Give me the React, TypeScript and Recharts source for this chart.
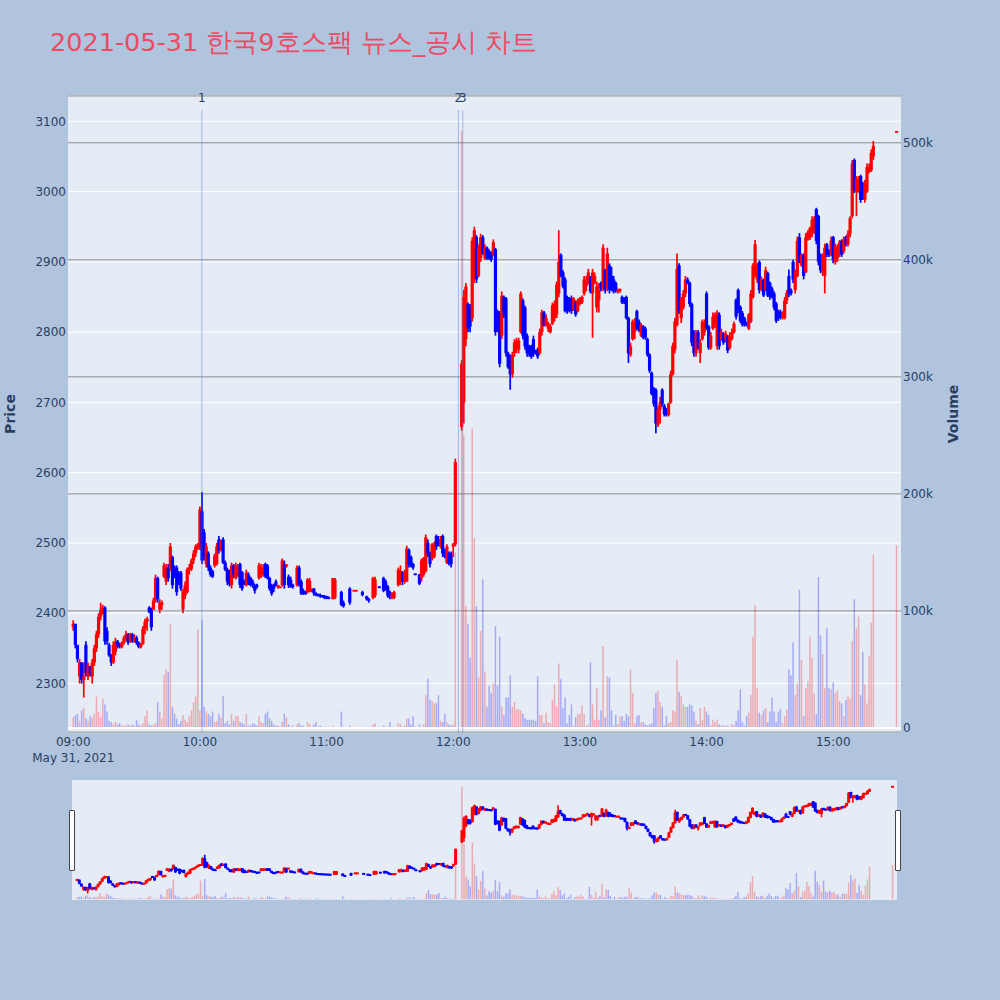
import React from 'react';
import { ComposedChart, Bar, XAxis, YAxis, CartesianGrid, ReferenceLine } from 'recharts';

type Row = [string, number, number, number, number, number]; // time, open, high, low, close, volume

const bars09: Row[] = [
  ['09:00', 2380, 2390, 2375, 2385, 9000], ['09:01', 2385, 2385, 2350, 2355, 11000],
  ['09:02', 2355, 2355, 2330, 2335, 12000], ['09:03', 2310, 2335, 2300, 2330, 6000],
  ['09:04', 2330, 2330, 2300, 2305, 15000], ['09:05', 2305, 2330, 2280, 2310, 17000],
  ['09:06', 2355, 2360, 2310, 2315, 8000], ['09:07', 2310, 2330, 2305, 2325, 6000],
  ['09:08', 2325, 2325, 2310, 2315, 10000], ['09:09', 2310, 2335, 2300, 2330, 9000],
  ['09:10', 2330, 2355, 2325, 2350, 12000], ['09:11', 2350, 2375, 2345, 2370, 27000],
  ['09:12', 2370, 2400, 2365, 2395, 14000], ['09:13', 2395, 2415, 2390, 2405, 9000],
  ['09:14', 2400, 2412, 2398, 2408, 25000], ['09:15', 2408, 2410, 2355, 2360, 20000],
  ['09:16', 2375, 2380, 2355, 2360, 14000], ['09:17', 2355, 2358, 2338, 2340, 6000],
  ['09:18', 2340, 2342, 2325, 2330, 5000], ['09:19', 2330, 2360, 2328, 2355, 3000],
  ['09:20', 2345, 2365, 2340, 2360, 5000], ['09:21', 2360, 2362, 2350, 2355, 3000],
  ['09:22', 2355, 2358, 2350, 2352, 4000], ['09:23', 2352, 2360, 2350, 2358, 2000],
  ['09:24', 2358, 2368, 2355, 2365, 2000], ['09:25', 2365, 2375, 2360, 2370, 2000],
  ['09:26', 2370, 2372, 2355, 2358, 3000], ['09:27', 2360, 2372, 2358, 2370, 2000],
  ['09:28', 2370, 2372, 2358, 2360, 3000], ['09:29', 2360, 2370, 2358, 2365, 2000],
  ['09:30', 2365, 2368, 2355, 2358, 7000], ['09:31', 2358, 2360, 2350, 2352, 3000],
  ['09:32', 2352, 2358, 2350, 2356, 2000], ['09:33', 2356, 2382, 2355, 2378, 4000],
  ['09:34', 2378, 2392, 2370, 2388, 10000], ['09:35', 2388, 2395, 2375, 2392, 15000],
  ['09:36', 2408, 2410, 2400, 2402, 3000], ['09:37', 2405, 2408, 2375, 2380, 2000],
  ['09:38', 2405, 2422, 2405, 2418, 3000], ['09:39', 2418, 2455, 2415, 2450, 4000],
  ['09:40', 2450, 2452, 2415, 2420, 22000], ['09:41', 2405, 2420, 2400, 2415, 14000],
  ['09:42', 2412, 2418, 2405, 2415, 8000], ['09:43', 2452, 2472, 2450, 2468, 45000],
  ['09:44', 2445, 2470, 2440, 2465, 50000], ['09:45', 2465, 2470, 2445, 2450, 48000],
  ['09:46', 2465, 2500, 2460, 2495, 89000], ['09:47', 2480, 2482, 2435, 2440, 18000],
  ['09:48', 2465, 2468, 2450, 2455, 12000], ['09:49', 2465, 2468, 2425, 2430, 8000],
  ['09:50', 2455, 2460, 2440, 2445, 3000], ['09:51', 2458, 2460, 2432, 2435, 6000],
  ['09:52', 2405, 2435, 2400, 2432, 11000], ['09:53', 2425, 2445, 2420, 2440, 7000],
  ['09:54', 2430, 2465, 2428, 2462, 5000], ['09:55', 2462, 2470, 2455, 2465, 10000],
  ['09:56', 2463, 2478, 2460, 2475, 15000], ['09:57', 2475, 2490, 2470, 2485, 22000],
  ['09:58', 2485, 2498, 2480, 2495, 27000], ['09:59', 2492, 2500, 2490, 2498, 84000],
];

const bars10: Row[] = [
  ['10:00', 2495, 2552, 2490, 2548, 15000], ['10:01', 2545, 2572, 2470, 2475, 92000],
  ['10:02', 2515, 2520, 2475, 2480, 18000], ['10:03', 2470, 2500, 2465, 2495, 14000],
  ['10:04', 2485, 2488, 2460, 2465, 12000], ['10:05', 2465, 2468, 2452, 2455, 10000],
  ['10:06', 2460, 2462, 2450, 2452, 14000], ['10:07', 2468, 2485, 2465, 2482, 5000],
  ['10:08', 2470, 2500, 2468, 2495, 6000], ['10:09', 2505, 2510, 2485, 2490, 12000],
  ['10:10', 2490, 2505, 2488, 2502, 9000], ['10:11', 2505, 2508, 2470, 2472, 27000],
  ['10:12', 2472, 2475, 2460, 2462, 4000], ['10:13', 2462, 2465, 2440, 2445, 6000],
  ['10:14', 2460, 2462, 2438, 2442, 3000], ['10:15', 2440, 2472, 2435, 2468, 12000],
  ['10:16', 2468, 2470, 2450, 2455, 6000], ['10:17', 2450, 2472, 2448, 2468, 10000],
  ['10:18', 2455, 2470, 2452, 2465, 10000], ['10:19', 2470, 2472, 2436, 2440, 5000],
  ['10:20', 2458, 2460, 2432, 2435, 4000], ['10:21', 2445, 2448, 2440, 2442, 3000],
  ['10:22', 2440, 2462, 2438, 2458, 12000], ['10:23', 2455, 2458, 2440, 2445, 2000],
  ['10:24', 2450, 2452, 2438, 2440, 2000], ['10:25', 2445, 2448, 2436, 2440, 4000],
  ['10:26', 2440, 2442, 2428, 2432, 3000], ['10:27', 2440, 2442, 2435, 2438, 2000],
  ['10:28', 2450, 2472, 2448, 2468, 10000], ['10:29', 2455, 2470, 2450, 2465, 5000],
  ['10:30', 2455, 2470, 2452, 2465, 4000], ['10:31', 2470, 2472, 2450, 2452, 12000],
  ['10:32', 2468, 2470, 2448, 2450, 14000], ['10:33', 2450, 2452, 2432, 2435, 8000],
  ['10:34', 2440, 2442, 2425, 2428, 6000], ['10:35', 2440, 2442, 2430, 2435, 3000],
  ['10:36', 2445, 2448, 2438, 2440, 2000], ['10:37', 2438, 2440, 2435, 2440, 2000],
  ['10:38', 2437, 2437, 2437, 2437, 1000], ['10:39', 2440, 2478, 2438, 2475, 5000],
  ['10:40', 2470, 2475, 2435, 2440, 12000], ['10:41', 2468, 2470, 2465, 2468, 9000],
  ['10:42', 2452, 2455, 2436, 2440, 3000], ['10:43', 2448, 2452, 2436, 2438, 1000],
  ['10:44', 2440, 2442, 2435, 2438, 2000], ['10:46', 2440, 2468, 2438, 2465, 3000],
  ['10:47', 2465, 2468, 2438, 2440, 4000], ['10:48', 2445, 2448, 2426, 2428, 2000],
  ['10:49', 2432, 2435, 2426, 2428, 2000], ['10:50', 2430, 2432, 2426, 2428, 1000],
  ['10:51', 2430, 2450, 2428, 2448, 5000], ['10:52', 2432, 2450, 2430, 2446, 3000],
  ['10:53', 2430, 2435, 2430, 2435, 1000], ['10:54', 2435, 2436, 2425, 2428, 3000],
  ['10:55', 2428, 2430, 2424, 2426, 5000], ['10:56', 2426, 2428, 2424, 2425, 1000],
  ['10:57', 2426, 2428, 2422, 2424, 2000], ['10:58', 2425, 2426, 2422, 2424, 1000],
  ['10:59', 2424, 2426, 2420, 2422, 1000],
];

const bars11: Row[] = [
  ['11:00', 2424, 2425, 2420, 2421, 1000], ['11:01', 2422, 2424, 2420, 2421, 1000],
  ['11:03', 2420, 2450, 2420, 2450, 2000], ['11:04', 2422, 2450, 2420, 2448, 1000],
  ['11:07', 2430, 2432, 2410, 2412, 14000], ['11:08', 2415, 2418, 2408, 2410, 1000],
  ['11:11', 2435, 2437, 2412, 2415, 2000], ['11:13', 2432, 2432, 2432, 2432, 1000],
  ['11:14', 2432, 2432, 2432, 2432, 1000], ['11:17', 2430, 2432, 2424, 2426, 1000],
  ['11:19', 2424, 2425, 2418, 2420, 1000], ['11:20', 2420, 2422, 2415, 2418, 1000],
  ['11:22', 2422, 2452, 2420, 2450, 3000], ['11:23', 2425, 2452, 2422, 2448, 4000],
  ['11:25', 2438, 2438, 2436, 2436, 1000], ['11:27', 2450, 2452, 2430, 2432, 2000],
  ['11:28', 2445, 2448, 2432, 2435, 1000], ['11:29', 2438, 2440, 2422, 2425, 1000],
  ['11:30', 2430, 2432, 2420, 2422, 5000], ['11:31', 2422, 2430, 2420, 2428, 1000],
  ['11:32', 2422, 2432, 2420, 2430, 1000], ['11:34', 2440, 2465, 2438, 2462, 4000],
  ['11:35', 2445, 2468, 2440, 2460, 3000], ['11:36', 2458, 2460, 2440, 2445, 1000],
  ['11:37', 2445, 2462, 2442, 2458, 2000], ['11:38', 2445, 2496, 2445, 2492, 8000],
  ['11:39', 2490, 2492, 2465, 2470, 8000], ['11:40', 2480, 2482, 2465, 2468, 3000],
  ['11:41', 2470, 2472, 2462, 2465, 10000], ['11:42', 2456, 2456, 2454, 2455, 1000],
  ['11:44', 2455, 2456, 2440, 2442, 3000], ['11:45', 2450, 2478, 2445, 2475, 1000],
  ['11:46', 2455, 2480, 2452, 2478, 3000], ['11:47', 2460, 2512, 2458, 2508, 28000],
  ['11:48', 2500, 2505, 2480, 2485, 42000], ['11:49', 2485, 2488, 2465, 2470, 24000],
  ['11:50', 2478, 2500, 2475, 2498, 23000], ['11:51', 2480, 2502, 2478, 2498, 21000],
  ['11:52', 2510, 2512, 2490, 2495, 21000], ['11:53', 2505, 2510, 2495, 2500, 28000],
  ['11:54', 2495, 2510, 2492, 2505, 6000], ['11:55', 2510, 2512, 2480, 2485, 5000],
  ['11:56', 2490, 2492, 2478, 2480, 12000], ['11:57', 2472, 2498, 2470, 2495, 5000],
  ['11:58', 2485, 2488, 2468, 2470, 3000], ['11:59', 2485, 2488, 2465, 2470, 2000],
];

const bars12: Row[] = [
  ['12:00', 2495, 2500, 2480, 2498, 3000], ['12:01', 2498, 2620, 2495, 2615, 150000],
  ['12:04', 2665, 2760, 2660, 2755, 510000], ['12:05', 2700, 2860, 2670, 2850, 250000],
  ['12:06', 2790, 2870, 2780, 2865, 104000], ['12:07', 2840, 2842, 2800, 2805, 89000],
  ['12:08', 2835, 2840, 2800, 2808, 60000], ['12:09', 2820, 2935, 2815, 2930, 256000],
  ['12:10', 2875, 2950, 2870, 2945, 162000], ['12:11', 2935, 2938, 2870, 2875, 104000],
  ['12:12', 2880, 2925, 2878, 2920, 43000], ['12:13', 2905, 2940, 2900, 2935, 83000],
  ['12:14', 2935, 2938, 2910, 2912, 127000], ['12:15', 2905, 2925, 2903, 2920, 48000],
  ['12:16', 2920, 2922, 2903, 2905, 18000], ['12:17', 2915, 2918, 2903, 2905, 36000],
  ['12:18', 2912, 2915, 2900, 2903, 30000], ['12:19', 2910, 2932, 2908, 2928, 38000],
  ['12:20', 2918, 2920, 2795, 2800, 87000], ['12:21', 2830, 2832, 2800, 2805, 36000],
  ['12:22', 2828, 2830, 2750, 2755, 78000], ['12:23', 2795, 2858, 2790, 2852, 18000],
  ['12:24', 2850, 2852, 2820, 2825, 11000], ['12:25', 2848, 2850, 2765, 2770, 26000],
  ['12:26', 2770, 2772, 2748, 2750, 26000], ['12:27', 2765, 2768, 2718, 2740, 45000],
  ['12:28', 2740, 2772, 2735, 2768, 18000], ['12:29', 2770, 2790, 2765, 2785, 22000],
  ['12:30', 2780, 2792, 2770, 2788, 16000], ['12:31', 2775, 2792, 2770, 2788, 16000],
  ['12:32', 2800, 2858, 2798, 2855, 15000], ['12:33', 2845, 2848, 2790, 2795, 12000],
  ['12:34', 2835, 2838, 2775, 2780, 8500], ['12:35', 2795, 2798, 2765, 2770, 7000],
  ['12:36', 2780, 2782, 2765, 2768, 7000], ['12:37', 2780, 2782, 2762, 2765, 7000],
  ['12:38', 2790, 2795, 2765, 2770, 7000], ['12:39', 2772, 2775, 2768, 2770, 6000],
  ['12:40', 2775, 2778, 2762, 2765, 44000], ['12:41', 2770, 2805, 2768, 2800, 11000],
  ['12:42', 2800, 2832, 2795, 2828, 11000], ['12:43', 2828, 2830, 2808, 2810, 4000],
  ['12:44', 2810, 2825, 2808, 2820, 13000], ['12:45', 2805, 2815, 2800, 2812, 5000],
  ['12:46', 2800, 2812, 2798, 2808, 4000], ['12:47', 2812, 2842, 2810, 2838, 24000],
  ['12:48', 2820, 2845, 2815, 2840, 37000], ['12:49', 2825, 2872, 2820, 2868, 18000],
  ['12:50', 2855, 2945, 2850, 2900, 55000], ['12:51', 2910, 2912, 2878, 2880, 42000],
  ['12:52', 2885, 2888, 2862, 2865, 17000], ['12:53', 2875, 2878, 2828, 2830, 26000],
  ['12:54', 2850, 2852, 2826, 2830, 4000], ['12:55', 2848, 2850, 2828, 2830, 11000],
  ['12:56', 2848, 2852, 2826, 2830, 20000], ['12:57', 2832, 2850, 2830, 2848, 2000],
  ['12:58', 2842, 2845, 2822, 2825, 9000], ['12:59', 2830, 2848, 2828, 2845, 12000],
];

const bars13: Row[] = [
  ['13:00', 2840, 2850, 2838, 2848, 12000], ['13:01', 2842, 2852, 2840, 2850, 19000],
  ['13:02', 2855, 2880, 2852, 2875, 12000], ['13:03', 2865, 2880, 2858, 2872, 2000],
  ['13:04', 2870, 2890, 2868, 2885, 3000], ['13:05', 2878, 2880, 2855, 2858, 56000],
  ['13:06', 2855, 2890, 2792, 2885, 20000], ['13:07', 2870, 2885, 2868, 2880, 7000],
  ['13:08', 2835, 2872, 2828, 2865, 34000], ['13:09', 2845, 2870, 2828, 2860, 7000],
  ['13:10', 2870, 2872, 2858, 2862, 15000], ['13:11', 2862, 2925, 2858, 2920, 70000],
  ['13:12', 2888, 2890, 2855, 2860, 9000], ['13:13', 2862, 2920, 2858, 2912, 44000],
  ['13:14', 2895, 2898, 2855, 2860, 43000], ['13:15', 2880, 2893, 2858, 2862, 15000],
  ['13:16', 2875, 2880, 2855, 2858, 2000], ['13:17', 2870, 2872, 2856, 2858, 11000],
  ['13:18', 2858, 2862, 2855, 2860, 3000], ['13:19', 2860, 2862, 2856, 2860, 10000],
  ['13:20', 2850, 2852, 2840, 2842, 10000], ['13:21', 2848, 2850, 2840, 2842, 6000],
  ['13:22', 2850, 2852, 2818, 2820, 12000], ['13:23', 2820, 2822, 2756, 2770, 10000],
  ['13:24', 2768, 2785, 2765, 2780, 50000], ['13:25', 2790, 2818, 2788, 2815, 30000],
  ['13:26', 2800, 2820, 2790, 2812, 4000], ['13:27', 2830, 2832, 2803, 2805, 10000],
  ['13:28', 2815, 2818, 2800, 2802, 11000], ['13:29', 2795, 2813, 2793, 2810, 5000],
  ['13:30', 2808, 2810, 2790, 2792, 5000], ['13:31', 2805, 2808, 2789, 2792, 3000],
  ['13:32', 2790, 2792, 2765, 2768, 2000], ['13:33', 2768, 2770, 2742, 2745, 3000],
  ['13:34', 2742, 2744, 2710, 2712, 4000], ['13:35', 2720, 2722, 2694, 2698, 17000],
  ['13:36', 2718, 2720, 2656, 2670, 30000], ['13:37', 2668, 2695, 2665, 2690, 32000],
  ['13:38', 2690, 2708, 2670, 2700, 22000], ['13:39', 2718, 2720, 2694, 2698, 18000],
  ['13:40', 2695, 2698, 2680, 2683, 2000], ['13:41', 2690, 2692, 2680, 2682, 10000],
  ['13:42', 2682, 2700, 2680, 2698, 4000], ['13:43', 2700, 2745, 2698, 2740, 5000],
  ['13:44', 2740, 2785, 2738, 2780, 15000], ['13:45', 2775, 2820, 2770, 2815, 14000],
  ['13:46', 2810, 2912, 2808, 2890, 58000], ['13:47', 2895, 2898, 2826, 2830, 31000],
  ['13:48', 2820, 2850, 2813, 2845, 27000], ['13:49', 2835, 2860, 2832, 2855, 20000],
  ['13:50', 2855, 2880, 2850, 2875, 18000], ['13:51', 2875, 2878, 2868, 2870, 18000],
  ['13:52', 2870, 2872, 2836, 2840, 20000], ['13:53', 2840, 2842, 2780, 2785, 19000],
  ['13:54', 2800, 2803, 2765, 2770, 14000], ['13:55', 2770, 2803, 2765, 2798, 6000],
  ['13:56', 2800, 2803, 2775, 2778, 3000], ['13:57', 2770, 2790, 2756, 2785, 17000],
  ['13:58', 2790, 2818, 2788, 2815, 7000], ['13:59', 2800, 2818, 2795, 2812, 18000],
];

const bars14: Row[] = [
  ['14:00', 2855, 2858, 2803, 2806, 14000], ['14:01', 2808, 2810, 2775, 2778, 11000],
  ['14:02', 2778, 2800, 2775, 2795, 2000], ['14:03', 2805, 2828, 2803, 2822, 7000],
  ['14:04', 2810, 2828, 2806, 2825, 5000], ['14:05', 2780, 2831, 2775, 2828, 7000],
  ['14:06', 2825, 2828, 2775, 2780, 3000], ['14:07', 2790, 2805, 2788, 2800, 2000],
  ['14:08', 2798, 2800, 2782, 2785, 2000], ['14:09', 2790, 2802, 2785, 2798, 2000],
  ['14:10', 2794, 2796, 2770, 2774, 2000], ['14:11', 2778, 2800, 2775, 2795, 1000],
  ['14:12', 2790, 2805, 2788, 2800, 3000], ['14:13', 2800, 2815, 2798, 2812, 2000],
  ['14:14', 2846, 2848, 2818, 2822, 6000], ['14:15', 2860, 2862, 2827, 2830, 15000],
  ['14:16', 2836, 2838, 2813, 2816, 33000], ['14:17', 2827, 2830, 2808, 2810, 5000],
  ['14:18', 2820, 2822, 2808, 2812, 2000], ['14:19', 2812, 2815, 2808, 2810, 10000],
  ['14:20', 2805, 2827, 2803, 2825, 13000], ['14:21', 2815, 2860, 2813, 2855, 28000],
  ['14:22', 2850, 2898, 2848, 2895, 78000], ['14:23', 2880, 2931, 2878, 2925, 105000],
  ['14:24', 2875, 2898, 2870, 2895, 34000], ['14:25', 2900, 2902, 2855, 2860, 13000],
  ['14:26', 2860, 2879, 2858, 2875, 11000], ['14:27', 2874, 2876, 2850, 2852, 15000],
  ['14:28', 2860, 2893, 2858, 2888, 17000], ['14:29', 2884, 2886, 2850, 2852, 5000],
  ['14:30', 2870, 2872, 2846, 2850, 14000], ['14:31', 2862, 2865, 2848, 2850, 26000],
  ['14:32', 2855, 2858, 2831, 2835, 14000], ['14:33', 2841, 2843, 2813, 2816, 5000],
  ['14:34', 2830, 2832, 2816, 2820, 14000], ['14:35', 2828, 2832, 2818, 2822, 16000],
  ['14:36', 2820, 2830, 2818, 2828, 4000], ['14:37', 2820, 2850, 2818, 2845, 10000],
  ['14:38', 2845, 2860, 2840, 2856, 16000], ['14:39', 2880, 2889, 2850, 2855, 50000],
  ['14:40', 2860, 2862, 2852, 2855, 45000], ['14:41', 2900, 2903, 2870, 2875, 73000],
  ['14:42', 2860, 2889, 2855, 2885, 28000], ['14:43', 2880, 2936, 2878, 2930, 38000],
  ['14:44', 2935, 2941, 2898, 2900, 118000], ['14:45', 2895, 2912, 2893, 2910, 58000],
  ['14:46', 2910, 2912, 2875, 2880, 10000], ['14:47', 2885, 2941, 2884, 2935, 34000],
  ['14:48', 2932, 2945, 2930, 2942, 40000], ['14:49', 2935, 2950, 2931, 2948, 78000],
  ['14:50', 2940, 2965, 2935, 2960, 60000], ['14:51', 2945, 2965, 2940, 2962, 29000],
  ['14:52', 2975, 2977, 2925, 2930, 12000], ['14:53', 2965, 2967, 2895, 2900, 129000],
  ['14:54', 2910, 2912, 2884, 2888, 79000], ['14:55', 2885, 2912, 2880, 2908, 63000],
  ['14:56', 2880, 2926, 2855, 2920, 34000], ['14:57', 2925, 2927, 2907, 2910, 85000],
  ['14:58', 2915, 2918, 2907, 2910, 34000], ['14:59', 2910, 2936, 2908, 2930, 33000],
];

const bars15: Row[] = [
  ['15:00', 2935, 2937, 2898, 2902, 39000], ['15:01', 2900, 2926, 2896, 2922, 30000],
  ['15:02', 2905, 2925, 2900, 2920, 32000], ['15:03', 2910, 2931, 2907, 2928, 23000],
  ['15:04', 2930, 2932, 2907, 2910, 21000], ['15:05', 2915, 2936, 2912, 2932, 10000],
  ['15:06', 2935, 2937, 2922, 2925, 24000], ['15:07', 2925, 2945, 2922, 2940, 27000],
  ['15:08', 2940, 2965, 2935, 2962, 25000], ['15:09', 2965, 3045, 2962, 3040, 74000],
  ['15:10', 3045, 3047, 2998, 3002, 110000], ['15:11', 3000, 3022, 2965, 3018, 85000],
  ['15:12', 3000, 3022, 2998, 3015, 95000], ['15:13', 3022, 3024, 2984, 2988, 28000],
  ['15:14', 3012, 3014, 2988, 2990, 65000], ['15:15', 2988, 3017, 2984, 3012, 37000],
  ['15:16', 3000, 3040, 2998, 3035, 21000], ['15:17', 3028, 3040, 3026, 3035, 61000],
  ['15:18', 3030, 3060, 3028, 3055, 90000], ['15:19', 3050, 3072, 3045, 3065, 148000],
  ['15:30', 3085, 3085, 3085, 3085, 156000],
];

const title = '2021-05-31 한국9호스팩 뉴스_공시 차트';
const timeTicks = ['09:00', '10:00', '11:00', '12:00', '13:00', '14:00', '15:00'];
const dateLabel = 'May 31, 2021';
const priceTicks = [2300, 2400, 2500, 2600, 2700, 2800, 2900, 3000, 3100];
const volumeTicks = [0, 100000, 200000, 300000, 400000, 500000];
const volumeTickLabels = ['0', '100k', '200k', '300k', '400k', '500k'];
const newsTimes = ['10:00:55', '12:02:25', '12:04:30'];
const newsLabels = ['1', '2', '3'];
const newsLineTop = 3116;
const timeRange = ['08:57:30', '15:32:05'];
const priceRange = [2231, 3136];
const volumeRange = [-3500, 540000];

const toMin = (t: string) => {
  const p = t.split(':').map(Number);
  return (p[0] - 9) * 60 + p[1] + (p[2] || 0) / 60;
};

const data = [...bars09, ...bars10, ...bars11, ...bars12, ...bars13, ...bars14, ...bars15].map(
  ([t, o, h, l, c, v]) => ({ t: toMin(t), time: t, open: o, high: h, low: l, close: c, volume: v, range: [l, h] })
);

const timeDomain = timeRange.map(toMin);
const timeTickValues = timeTicks.map(toMin);

const FONT = '"DejaVu Sans", Verdana, sans-serif';
const AXIS_COLOR = '#2a3f5f';
const UP = '#ff0000';
const DOWN = '#0000ff';
const PLOT_BG = '#e5ecf6';

const makeCandle = (bodyW: number, wickW: number, minBody: number) => (props: any) => {
  const { x, y, width, height, payload } = props;
  if (x == null || y == null || !payload) return <g />;
  const cx = x + (width || 0) / 2;
  const { open, high, low, close } = payload;
  const color = close >= open ? UP : DOWN;
  const h = Math.max(height || 0, 0);
  const span = high - low;
  const ppu = span > 0 ? h / span : 0;
  const yO = y + (high - open) * ppu;
  const yC = y + (high - close) * ppu;
  let top = Math.min(yO, yC);
  let bh = Math.abs(yO - yC);
  if (bh < minBody) {
    top = top - (minBody - bh) / 2;
    bh = minBody;
  }
  return (
    <g>
      {h > 0 && <line x1={cx} x2={cx} y1={y} y2={y + h} stroke={color} strokeWidth={wickW} />}
      <rect x={cx - bodyW / 2} y={top} width={bodyW} height={bh} fill={color} />
    </g>
  );
};

const Candle = makeCandle(3.2, 1.7, 1.8);
const MiniCandle = makeCandle(3, 1.6, 2);

const VolumeBar = (props: any) => {
  const { x, y, width, height, payload } = props;
  if (x == null || y == null || !payload) return <g />;
  const cx = x + (width || 0) / 2;
  const color = payload.close >= payload.open ? 'rgba(255,0,0,0.28)' : 'rgba(0,0,255,0.28)';
  return <rect x={cx - 0.75} y={y} width={1.5} height={Math.max(height || 0, 0)} fill={color} />;
};

const TimeTick = (props: any) => {
  const { x, y, payload, index } = props;
  const label = timeTicks.find((t) => toMin(t) === payload.value) ?? '';
  return (
    <g>
      <text x={x} y={y + 14} textAnchor="middle" fill={AXIS_COLOR} fontSize={12} fontFamily={FONT}>
        {label}
      </text>
      {index === 0 && (
        <text x={x} y={y + 30} textAnchor="middle" fill={AXIS_COLOR} fontSize={12} fontFamily={FONT}>
          {dateLabel}
        </text>
      )}
    </g>
  );
};

const axisTitle = (text: string, dx: number) => (p: any) => {
  const vb = p.viewBox || {};
  const cx = vb.x + dx;
  const cy = vb.y + vb.height / 2;
  return (
    <text
      x={cx}
      y={cy}
      transform={`rotate(-90, ${cx}, ${cy})`}
      textAnchor="middle"
      dominantBaseline="central"
      fill={AXIS_COLOR}
      fontSize={14}
      fontWeight="bold"
      fontFamily={FONT}
    >
      {text}
    </text>
  );
};

const handleStyle = (left: number): React.CSSProperties => ({
  position: 'absolute',
  left,
  top: 810,
  width: 3.4,
  height: 59,
  background: '#ffffff',
  border: '1px solid #444444',
  borderRadius: 1,
});

export default function App() {
  return (
    <div style={{ position: 'absolute', left: 0, top: 0, width: 1000, height: 1000, background: '#b0c4de', fontFamily: FONT }}>
      <svg width={1000} height={70} style={{ position: 'absolute', left: 0, top: 0 }}>
        <text x={50} y={51} fill="#ef4a63" fontSize={25.5} fontFamily={FONT}>
          {title}
        </text>
      </svg>

      {/* main chart */}
      <div style={{ position: 'absolute', left: 0, top: 0 }}>
        <ComposedChart width={1000} height={1000} data={data} margin={{ top: 96, right: 39, bottom: 220, left: 8 }}>
          <XAxis
            xAxisId="p"
            dataKey="t"
            type="number"
            domain={timeDomain}
            allowDataOverflow
            ticks={timeTickValues}
            interval={0}
            tick={<TimeTick />}
            tickLine={false}
            axisLine={false}
            tickSize={0}
            tickMargin={0}
            height={48}
          />
          <XAxis xAxisId="v" dataKey="t" type="number" domain={timeDomain} allowDataOverflow hide />
          <YAxis
            yAxisId="price"
            orientation="left"
            type="number"
            domain={priceRange}
            allowDataOverflow
            ticks={priceTicks}
            interval={0}
            width={60}
            tickLine={false}
            axisLine={false}
            tickSize={0}
            tickMargin={2}
            tick={{ fill: AXIS_COLOR, fontSize: 12, fontFamily: FONT }}
            label={{ content: axisTitle('Price', 2) }}
          />
          <YAxis
            yAxisId="vol"
            orientation="right"
            type="number"
            domain={volumeRange}
            allowDataOverflow
            ticks={volumeTicks}
            interval={0}
            width={60}
            tickLine={false}
            axisLine={false}
            tickSize={0}
            tickMargin={2}
            tickFormatter={(v: number) => volumeTickLabels[volumeTicks.indexOf(v)] ?? ''}
            tick={{ fill: AXIS_COLOR, fontSize: 12, fontFamily: FONT }}
            label={{ content: axisTitle('Volume', 52) }}
          />
          <CartesianGrid xAxisId="p" yAxisId="price" vertical={false} stroke="#ffffff" strokeWidth={1} fill={PLOT_BG} />
          <CartesianGrid xAxisId="p" yAxisId="vol" vertical={false} stroke="#8c8c8c" strokeWidth={1} />
          <ReferenceLine xAxisId="v" yAxisId="vol" y={0} stroke="#ffffff" strokeWidth={2} />
          <Bar xAxisId="v" yAxisId="vol" dataKey="volume" barSize={2} shape={VolumeBar} isAnimationActive={false} />
          <Bar xAxisId="p" yAxisId="price" dataKey="range" barSize={2} shape={Candle} isAnimationActive={false} />
          {newsTimes.map((t, i) => (
            <ReferenceLine
              key={t}
              xAxisId="p"
              yAxisId="price"
              segment={[
                { x: toMin(t), y: priceRange[0] },
                { x: toMin(t), y: newsLineTop },
              ]}
              stroke="rgba(80,110,230,0.45)"
              strokeWidth={1}
              label={{ value: newsLabels[i], position: 'top', offset: 8.5, fill: AXIS_COLOR, fontSize: 12, fontFamily: FONT }}
            />
          ))}
        </ComposedChart>
      </div>

      {/* range slider */}
      <div style={{ position: 'absolute', left: 72, top: 780, width: 825, height: 120, background: PLOT_BG }}>
        <ComposedChart width={825} height={120} data={data} margin={{ top: 0, right: 0, bottom: 0, left: 0 }}>
          <XAxis xAxisId="p" dataKey="t" type="number" domain={timeDomain} allowDataOverflow hide />
          <XAxis xAxisId="v" dataKey="t" type="number" domain={timeDomain} allowDataOverflow hide />
          <YAxis yAxisId="price" type="number" domain={priceRange} allowDataOverflow hide />
          <YAxis yAxisId="vol" type="number" domain={volumeRange} allowDataOverflow hide />
          <Bar xAxisId="v" yAxisId="vol" dataKey="volume" barSize={2} shape={VolumeBar} isAnimationActive={false} />
          <Bar xAxisId="p" yAxisId="price" dataKey="range" barSize={2} shape={MiniCandle} isAnimationActive={false} />
        </ComposedChart>
      </div>
      <div style={handleStyle(69.3)} />
      <div style={handleStyle(895.2)} />
    </div>
  );
}
